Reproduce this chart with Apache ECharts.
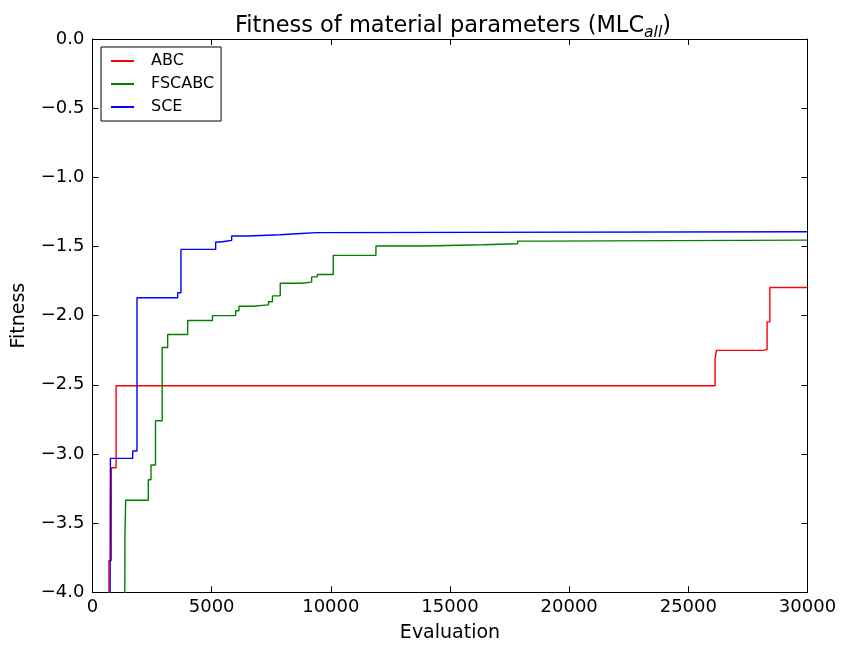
<!DOCTYPE html>
<html>
<head>
<meta charset="utf-8">
<script src="https://cdn.jsdelivr.net/npm/echarts@6/dist/echarts.min.js"></script>
<style>
  html, body { margin: 0; padding: 0; background: #fff; }
  #chart { width: 843px; height: 650px; }
</style>
</head>
<body>
<div id="chart"></div>
<script>
var abcEvals = [600, 690, 790, 990, 26120, 26180, 28140, 28305, 28420, 30000];
var abcFitness = [-4.4, -3.77, -3.10, -2.507, -2.316, -2.251, -2.244, -2.045, -1.797, -1.797];

var fscabcEvals = [1351, 1360, 1393, 2341, 2454, 2643, 2924, 3154, 3993, 5034, 6007, 6145, 6753, 7383, 7550, 7877, 8775, 9195, 9430, 10101, 11892, 13905, 16367, 17836, 18884, 30000];
var fscabcFitness = [-4.4, -3.59, -3.335, -3.186, -3.08, -2.76, -2.23, -2.136, -2.035, -2.0, -1.965, -1.932, -1.922, -1.90, -1.857, -1.766, -1.758, -1.72, -1.703, -1.564, -1.497, -1.487, -1.48, -1.461, -1.454, -1.454];

var sceEvals = [735, 742, 752, 1686, 1867, 3574, 3712, 5168, 5378, 5587, 5839, 6535, 7865, 8565, 9404, 30000];
var sceFitness = [-4.4, -3.767, -3.032, -2.979, -1.871, -1.834, -1.521, -1.468, -1.462, -1.456, -1.424, -1.415, -1.408, -1.40, -1.393, -1.393];

var xTicks = [0, 5000, 10000, 15000, 20000, 25000, 30000];
var yTicks = [-4.0, -3.5, -3.0, -2.5, -2.0, -1.5, -1.0, -0.5, 0.0];

var font = "DejaVu Sans";

function pairs(xs, ys) {
  return xs.map(function(x, i) { return [x, ys[i]]; });
}
function fmtY(v) {
  return (v < 0 ? "\u2212" : "") + Math.abs(v).toFixed(1);
}
function fmtX(v) {
  return String(v);
}

var frameAxis = {
  type: "value",
  axisLine: { show: true, onZero: false, lineStyle: { color: "#000", width: 1 } },
  axisTick: { show: true, inside: true, length: 6, lineStyle: { color: "#000" } },
  splitLine: { show: false }
};

function mkAxis(extra) {
  return Object.assign({}, frameAxis, extra);
}

var option = {
  backgroundColor: "#fff",
  animation: false,
  title: {
    text: "{t|Fitness of material parameters (MLC}{s|all}{t|)}",
    left: 448,
    top: 6,
    textAlign: "center",
    textStyle: {
      rich: {
        t: { fontFamily: font, fontSize: 22.5, fontWeight: "normal", color: "#000", lineHeight: 30, verticalAlign: "middle" },
        s: { fontFamily: font, fontSize: 15.5, fontWeight: "normal", fontStyle: "italic", color: "#000", lineHeight: 18, padding: [12, 0, 0, 0], verticalAlign: "bottom" }
      }
    }
  },
  legend: {
    orient: "vertical",
    left: 101,
    top: 47,
    padding: [5, 7, 5, 10],
    itemGap: 5,
    itemWidth: 23,
    itemHeight: 2,
    icon: "rect",
    borderColor: "#000",
    borderWidth: 1,
    borderRadius: 0,
    backgroundColor: "#fff",
    textStyle: { fontFamily: font, fontSize: 16, color: "#000", lineHeight: 18, padding: [0, 0, 0, 12] },
    data: ["ABC", "FSCABC", "SCE"]
  },
  grid: { left: 92.5, right: 35.5, top: 39, bottom: 57.7 },
  xAxis: [
    mkAxis({
      min: xTicks[0], max: xTicks[xTicks.length - 1], interval: 5000,
      position: "bottom",
      name: "Evaluation", nameLocation: "middle", nameGap: 31,
      nameTextStyle: { fontFamily: font, fontSize: 19, color: "#000" },
      axisLabel: { fontFamily: font, fontSize: 18, color: "#000", margin: 6, formatter: fmtX }
    }),
    mkAxis({
      min: xTicks[0], max: xTicks[xTicks.length - 1], interval: 5000,
      position: "top",
      axisLabel: { show: false }
    })
  ],
  yAxis: [
    mkAxis({
      min: yTicks[0], max: yTicks[yTicks.length - 1], interval: 0.5,
      position: "left",
      name: "Fitness", nameLocation: "middle", nameGap: 64,
      nameTextStyle: { fontFamily: font, fontSize: 19, color: "#000" },
      axisLabel: { fontFamily: font, fontSize: 18, color: "#000", margin: 8, formatter: fmtY }
    }),
    mkAxis({
      min: yTicks[0], max: yTicks[yTicks.length - 1], interval: 0.5,
      position: "right",
      axisLabel: { show: false }
    })
  ],
  series: [
    {
      name: "ABC", type: "line", step: "end", showSymbol: false, symbol: "none",
      color: "#ff0000", lineStyle: { color: "#ff0000", width: 1.4 },
      data: pairs(abcEvals, abcFitness)
    },
    {
      name: "FSCABC", type: "line", step: "end", showSymbol: false, symbol: "none",
      color: "#008000", lineStyle: { color: "#008000", width: 1.4 },
      data: pairs(fscabcEvals, fscabcFitness)
    },
    {
      name: "SCE", type: "line", step: "end", showSymbol: false, symbol: "none",
      color: "#0000ff", lineStyle: { color: "#0000ff", width: 1.4 },
      data: pairs(sceEvals, sceFitness)
    }
  ]
};

var chart = echarts.init(document.getElementById("chart"), null, { renderer: "canvas" });
chart.setOption(option);
</script>
</body>
</html>
